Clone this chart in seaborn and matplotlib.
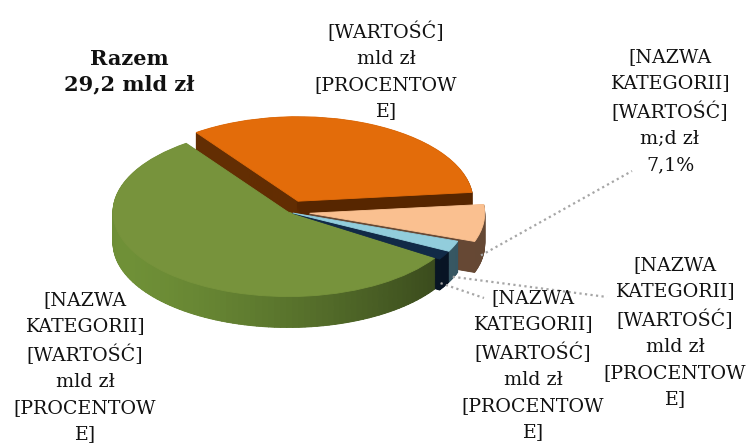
import numpy as np
import matplotlib
matplotlib.use("Agg")
import matplotlib.pyplot as plt
import matplotlib.colors as mcolors
from matplotlib.patches import Wedge
from matplotlib.collections import PatchCollection
import seaborn as sns

# ---- data (mld zł) ----
categories = ["kat_1", "kat_2", "kat_3", "kat_4", "kat_5"]
values = [9.7, 16.35, 0.48, 0.6, 2.07]
explode = [0.14, 0.0, 0.03, 0.03, 0.125]

top_colors = ["#E36C0A", "#77933C", "#112A47", "#92CDDC", "#FAC090"]
side_light = ["#6A3204", "#6F9037", "#0B1B2E", "#41687A", "#72533F"]
side_dark = ["#572600", "#2E3B17", "#071322", "#35545F", "#644733"]

placeholder = "[NAZWA\nKATEGORII]\n[WARTOŚĆ]\nmld zł\n[PROCENTOW\nE]"
labels = [
    "[WARTOŚĆ]\nmld zł\n[PROCENTOW\nE]",
    placeholder,
    placeholder,
    placeholder,
    "[NAZWA\nKATEGORII]\n[WARTOŚĆ]\nm;d zł\n{pct}",
]

# ---- layout (pixels) ----
W, H = 751, 448
squash = 0.483         # vertical foreshortening of the disc
cx_px, cy_px = 288, 212
R = 175
depth_px = 31
start_angle = 6.0

label_pos = [(386, 71), (85, 367), (533, 365), (675, 332), (670, 111)]
leader_end = [None, None, (484, 298), (607, 297), (632, 171)]
leader_along = [0.5, 0.5, 0.1, 0.4, 0.3]   # position along the slice arc
leader_depth = [0.5, 0.5, 0.8, 0.95, 0.8]

sns.set_theme(style="white")
plt.rcParams["font.family"] = ["DejaVu Serif"]

fig = plt.figure(figsize=(W / 100, H / 100), dpi=100)
ax = fig.add_axes([0, 0, 1, 1])
ax.set_xlim(0, W)
ax.set_ylim(0, H / squash)
ax.axis("off")


def to_data(px, py):
    return px, (H - py) / squash


cx, cy = to_data(cx_px, cy_px)
depth = depth_px / squash

total = sum(values)
fracs = np.array(values) / total
spans = fracs * 360.0
theta1 = start_angle + np.concatenate([[0], np.cumsum(spans)[:-1]])
theta2 = theta1 + spans
mids = (theta1 + theta2) / 2
offsets = [(e * R * np.cos(np.radians(m)), e * R * np.sin(np.radians(m)))
           for e, m in zip(explode, mids)]


def side_color(i, ang):
    t = (1 - np.cos(np.radians(ang - 200))) / 2
    a = np.array(mcolors.to_rgb(side_light[i]))
    b = np.array(mcolors.to_rgb(side_dark[i]))
    return tuple(a + (b - a) * t)


# side walls: stacked layers, shaded by angle
n_layers = 60
step = 2.0
for li, d in enumerate(np.linspace(depth, 0, n_layers, endpoint=False)):
    patches, cols = [], []
    for i in range(len(values)):
        ox, oy = offsets[i]
        edges = np.arange(theta1[i], theta2[i], step)
        edges = np.append(edges, theta2[i])
        for a, b in zip(edges[:-1], edges[1:]):
            patches.append(Wedge((cx + ox, cy + oy - d), R, a, b))
            cols.append(side_color(i, (a + b) / 2))
    pc = PatchCollection(patches, facecolors=cols, edgecolors=cols,
                         linewidths=0.6, zorder=1 + li * 0.01)
    ax.add_collection(pc)

# top surfaces
for i in range(len(values)):
    ox, oy = offsets[i]
    w = Wedge((cx + ox, cy + oy), R, theta1[i], theta2[i],
              facecolor=top_colors[i], edgecolor=top_colors[i],
              linewidth=0.6, zorder=3)
    ax.add_patch(w)

# leader lines
for i in range(len(values)):
    if leader_end[i] is None:
        continue
    ox, oy = offsets[i]
    m = np.radians(theta1[i] + spans[i] * leader_along[i])
    sx = cx + ox + R * np.cos(m)
    sy = cy + oy + R * np.sin(m) - depth * leader_depth[i]
    ex, ey = to_data(*leader_end[i])
    ax.plot([sx, ex], [sy, ey], linestyle=(0, (1, 1.5)), color="#A6A6A6",
            linewidth=1.6, zorder=4)

# data labels
for i, (txt, (lx, ly)) in enumerate(zip(labels, label_pos)):
    pct = f"{fracs[i] * 100:.1f}%".replace(".", ",")
    fig.text(lx / W, 1 - ly / H, txt.format(pct=pct), ha="center",
             va="center", fontsize=13.7, color="#111111",
             linespacing=1.58, zorder=5)

# total
total_txt = f"Razem\n{total:.1f} mld zł".replace(".", ",")
fig.text(129 / W, 1 - 72 / H, total_txt, ha="center", va="center",
         fontsize=15, fontweight="bold", color="#111111", linespacing=1.35)

fig.savefig("out.png", dpi=100, facecolor="white")
